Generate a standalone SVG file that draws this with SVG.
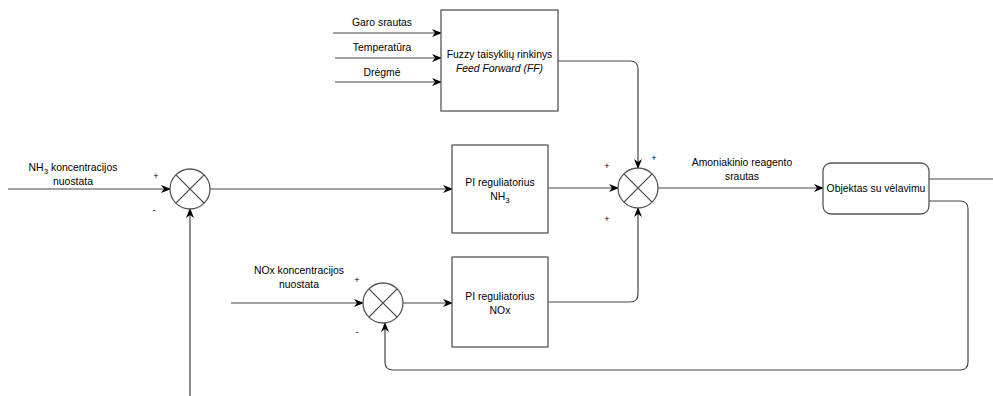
<svg xmlns="http://www.w3.org/2000/svg" width="993" height="396" viewBox="0 0 993 396">
<style>
.box{fill:#fff;stroke:#555;stroke-width:1.3}
.ln{fill:none;stroke:#444;stroke-width:1.2}
.t{font-family:"Liberation Sans",Arial,sans-serif;font-size:10.4px;fill:#000;text-anchor:middle}
.s{font-family:"Liberation Sans",Arial,sans-serif;font-size:9px;fill:#000;text-anchor:middle}
</style>
<defs>
<marker id="ar" markerWidth="10" markerHeight="8" refX="9" refY="4" orient="auto" markerUnits="userSpaceOnUse">
<path d="M0,0 L10,4 L0,8 L3,4 Z" fill="#000"/>
</marker>
</defs>
<rect width="993" height="396" fill="#fff"/>
<g id="connectors">
<path class="ln" d="M333,33 H441" marker-end="url(#ar)"/>
<path class="ln" d="M335,58 H441" marker-end="url(#ar)"/>
<path class="ln" d="M335,82 H441" marker-end="url(#ar)"/>
<path class="ln" d="M558,61 H630 Q638,61 638,69 V168" marker-end="url(#ar)"/>
<path class="ln" d="M8,189 H170" marker-end="url(#ar)"/>
<path class="ln" d="M190,396 V209" marker-end="url(#ar)"/>
<path class="ln" d="M210,189 H452" marker-end="url(#ar)"/>
<path class="ln" d="M548,188 H618" marker-end="url(#ar)"/>
<path class="ln" d="M658,188 H823" marker-end="url(#ar)"/>
<path class="ln" d="M929,179 H993"/>
<path class="ln" d="M929,201 H960 Q968,201 968,209 V362 Q968,370 960,370 H393 Q385,370 385,362 V323" marker-end="url(#ar)"/>
<path class="ln" d="M231,303 H363" marker-end="url(#ar)"/>
<path class="ln" d="M403,303 H452" marker-end="url(#ar)"/>
<path class="ln" d="M548,302 H630 Q638,302 638,294 V208" marker-end="url(#ar)"/>
</g>
<g id="inputs-labels">
<text class="t" x="382" y="26">Garo srautas</text>
<text class="t" x="382" y="51">Temperatūra</text>
<text class="t" x="382" y="76">Drėgmė</text>
<text class="t" x="73" y="171">NH<tspan font-size="8" dy="3">3</tspan><tspan dy="-3"> koncentracijos</tspan></text>
<text class="t" x="73" y="185">nuostata</text>
<text class="t" x="299" y="274">NOx koncentracijos</text>
<text class="t" x="299" y="288">nuostata</text>
<text class="t" x="742" y="166">Amoniakinio reagento</text>
<text class="t" x="742" y="180">srautas</text>
<text class="s" x="156" y="179">+</text>
<text class="s" x="154" y="213">-</text>
<text class="s" x="607" y="169">+</text>
<text class="s" x="654" y="161">+</text>
<text class="s" x="607" y="222">+</text>
<text class="s" x="357" y="283">+</text>
<text class="s" x="357" y="335">-</text>
</g>
<g id="fuzzy">
<rect class="box" x="441" y="10" width="117" height="101"/>
<text class="t" x="499.5" y="58">Fuzzy taisyklių rinkinys</text>
<text class="t" x="499.5" y="72" font-style="italic">Feed Forward (FF)</text>
</g>
<g id="sum1">
<circle class="box" cx="190" cy="189" r="20"/>
<path class="ln" d="M175.9,174.9 L204.1,203.1 M204.1,174.9 L175.9,203.1"/>
</g>
<g id="pi-nh3">
<rect class="box" x="452" y="145" width="96" height="88"/>
<text class="t" x="500" y="186">PI reguliatorius</text>
<text class="t" x="500" y="200">NH<tspan font-size="8" dy="3">3</tspan></text>
</g>
<g id="sum2">
<circle class="box" cx="638" cy="188" r="20"/>
<path class="ln" d="M623.9,173.9 L652.1,202.1 M652.1,173.9 L623.9,202.1"/>
</g>
<g id="objektas">
<rect class="box" x="823" y="163" width="106" height="51" rx="8"/>
<text class="t" x="876" y="192">Objektas su vėlavimu</text>
</g>
<g id="sum3">
<circle class="box" cx="383" cy="303" r="20"/>
<path class="ln" d="M368.9,288.9 L397.1,317.1 M397.1,288.9 L368.9,317.1"/>
</g>
<g id="pi-nox">
<rect class="box" x="452" y="257" width="96" height="90"/>
<text class="t" x="500" y="300">PI reguliatorius</text>
<text class="t" x="500" y="314">NOx</text>
</g>
</svg>
